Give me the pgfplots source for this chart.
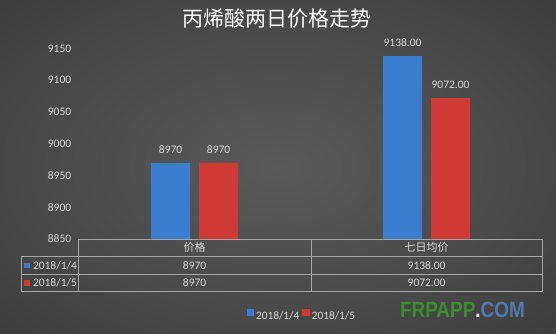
\documentclass[border=0pt]{standalone}
\usepackage{fontspec}
\setmainfont{Carlito}
\newfontfamily\cjk{Noto Sans CJK SC}
\newfontfamily\wm{Liberation Sans}
\usepackage{pgfplots}
\pgfplotsset{compat=1.18}
\definecolor{bgin}{HTML}{5A5A5A}
\definecolor{bgmid}{HTML}{444444}
\definecolor{bgout}{HTML}{2B2B2B}
\definecolor{lbl}{HTML}{D9D9D9}
\definecolor{grid}{HTML}{A6A6A6}
\definecolor{barblue}{HTML}{3A7DCE}
\definecolor{barred}{HTML}{D03A36}
\definecolor{wmgreen}{HTML}{3B8D2F}
\definecolor{wmblue}{HTML}{4F7BAA}
\pgfdeclareradialshading{bgshade}{\pgfpoint{0bp}{0bp}}{color(0bp)=(bgin); color(28bp)=(bgmid); color(55bp)=(bgout); color(71bp)=(bgout)}
\begin{document}
\begin{tikzpicture}[x=1pt,y=1pt]
\path[use as bounding box, shading=bgshade] (0,0) rectangle (556,334);
\shade[shading=bgshade] (0,0) rectangle (556,334);
\node[text=white, font=\cjk\fontsize{21}{24}\selectfont] at (277,315.3) {丙烯酸两日价格走势};
\begin{axis}[
  at={(78.7pt,95pt)}, anchor=south west,
  width=463.8pt, height=254pt, scale only axis,
  xmin=-0.5, xmax=1.5, ymin=8850, ymax=9250,
  ytick={8850,8900,8950,9000,9050,9100,9150},
  xtick=\empty,
  axis line style={draw=none},
  major tick length=0pt,
  tick style={draw=none},
  yticklabel style={font=\fontsize{11.5}{12}\selectfont, text=lbl, xshift=-4pt},
  /pgf/number format/assume math mode=true,
  /pgf/number format/1000 sep={},
  ybar=9pt, bar width=39pt,
  nodes near coords, point meta=explicit symbolic,
  every node near coord/.append style={font=\fontsize{11.5}{12}\selectfont, text=lbl, yshift=6pt},
  legend columns=2,
  legend image code/.code={\fill[#1] (0pt,-0.2pt) rectangle (7.6pt,7.4pt);},
  legend style={at={(0.481,-0.302)}, anchor=center, draw=none, fill=none, text=lbl,
    font=\fontsize{11.3}{12}\selectfont, /tikz/every even column/.append style={column sep=1pt}},
]
\addplot[fill=barblue, draw=none] coordinates {(0,8970) [8970] (1,9138) [9138.00]};
\addplot[fill=barred, draw=none] coordinates {(0,8970) [8970] (1,9072) [9072.00]};
\legend{2018/1/4, 2018/1/5}
\end{axis}
% data table
\draw[grid, line width=0.6pt] (78.7,95) -- (542.5,95);
\draw[grid, line width=0.6pt] (21,77.3) -- (542.5,77.3);
\draw[grid, line width=0.6pt] (21,59.7) -- (542.5,59.7);
\draw[grid, line width=0.6pt] (21,42.3) -- (542.5,42.3);
\draw[grid, line width=0.6pt] (21,42.3) -- (21,77.3);
\draw[grid, line width=0.6pt] (78.7,42.3) -- (78.7,95);
\draw[grid, line width=0.6pt] (311,42.3) -- (311,95);
\draw[grid, line width=0.6pt] (542.5,42.3) -- (542.5,95);
\begin{scope}[every node/.style={text=lbl, font=\fontsize{11.5}{12}\selectfont}]
\node[font=\cjk\fontsize{11}{12}\selectfont] at (194.65,86.2) {价格};
\node[font=\cjk\fontsize{11}{12}\selectfont] at (426.6,86.2) {七日均价};
\node at (194.65,68.5) {8970};
\node at (426.6,68.5) {9138.00};
\node at (194.65,51) {8970};
\node at (426.6,51) {9072.00};
\node[anchor=west, inner sep=0pt] at (32.8,68.5) {2018/1/4};
\node[anchor=west, inner sep=0pt] at (32.8,51) {2018/1/5};
\end{scope}
\fill[barblue] (24.3,65.6) rectangle (30,71.3);
\fill[barred] (24.3,48.1) rectangle (30,53.8);
% watermark
\node[font=\wm\bfseries\fontsize{22}{24}\selectfont, xscale=0.86, transform shape, inner sep=0pt] at (462.4,23.7) {\textcolor{wmgreen}{FRPAPP}\textcolor{white}{.}\textcolor{wmblue}{COM}};
\end{tikzpicture}
\end{document}
